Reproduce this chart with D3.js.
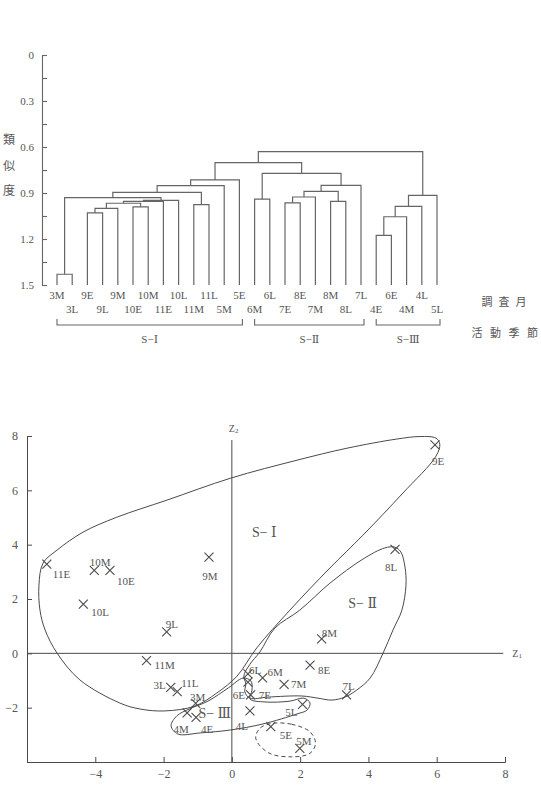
<!DOCTYPE html>
<html>
<head>
<meta charset="utf-8">
<script src="https://cdn.jsdelivr.net/npm/d3@7"></script>
<style>
body{margin:0;background:#fff;}
svg{display:block;font-family:"Liberation Serif","DejaVu Serif",serif;}
.cjk{font-family:"Noto Sans CJK JP","Noto Sans CJK SC",sans-serif;font-weight:400;}
</style>
</head>
<body>
<div id="chart"></div>
<script>
//====================== dendrogram data ===========================
var leafNames=["3M","3L","9E","9L","9M","10E","10M","11E","10L","11M","11L","5M","5E",
	"6M","6L","7E","8E","7M","8M","8L","7L","4E","6E","4M","4L","5L"];
// [left, right, similarity] ; ids >= 26 are earlier rows (26 + row)
var merges=[
	[0,1,1.43],[2,3,1.03],[27,4,1.00],[5,6,0.99],[28,29,0.967],[30,7,0.955],[31,8,0.948],
	[26,32,0.93],[9,10,0.976],[33,34,0.896],[35,11,0.852],[36,12,0.815],
	[13,14,0.94],[15,16,0.965],[39,17,0.926],[18,19,0.955],[40,41,0.889],[42,20,0.85],
	[38,43,0.772],[37,44,0.702],
	[21,22,1.176],[46,23,1.055],[47,24,0.987],[48,25,0.915],[45,49,0.63]
];
var simTicks=[0,0.15,0.3,0.45,0.6,0.75,0.9,1.05,1.2,1.35,1.5];
var groupNames=["S−Ⅰ","S−Ⅱ","S−Ⅲ"];
var groupFirst=["3M","6M","4E"];
var groupLast=["5E","7L","5L"];

//====================== ordination data ===========================
var ptNames=["11E","10M","10E","9M","10L","9L","11M","3L","11L","3M","4M","4E","6L","6E","7E",
	"4L","6M","7M","8E","8M","7L","5L","5E","5M","9E","8L"];
var ptZ1=[-5.42,-4.03,-3.57,-0.67,-4.35,-1.91,-2.50,-1.79,-1.60,-1.06,-1.31,-1.05,0.47,0.47,0.55,
	0.53,0.90,1.53,2.29,2.63,3.36,2.07,1.14,1.99,5.95,4.78];
var ptZ2=[3.28,3.05,3.05,3.54,1.81,0.79,-0.27,-1.25,-1.41,-1.84,-2.19,-2.36,-0.76,-1.06,-1.53,
	-2.12,-0.90,-1.14,-0.43,0.53,-1.53,-1.88,-2.70,-3.50,7.67,3.83];
var z1Ticks=[-4,-2,0,2,4,6,8];
var z2Ticks=[-2,0,2,4,6,8];

// group outlines, in (Z1,Z2)
var hullS1=[[-5.62,1.59],[-5.65,2.51],[-5.53,3.32],[-5.12,3.80],[-4.36,4.46],[-3.37,5.01],[-1.90,5.64],
	[-0.03,6.45],[1.91,7.11],[3.37,7.55],[4.84,7.89],[5.51,7.98],[5.98,7.92],[6.09,7.70],[5.98,7.26],
	[5.01,5.90],[3.84,4.35],[2.87,3.14],[1.70,1.59],[0.73,0.20],[0.15,-0.84],[-0.44,-1.46],
	[-1.08,-1.94],[-1.96,-2.12],[-2.69,-2.05],[-3.28,-1.83],[-4.45,-0.98],[-5.12,0.01],[-5.47,0.86]];
var hullS2=[[4.48,3.88],[4.77,3.91],[4.95,3.73],[5.07,3.18],[5.10,2.51],[4.98,1.59],[4.72,0.86],
	[4.43,0.01],[4.05,-0.91],[3.66,-1.35],[3.31,-1.61],[2.93,-1.72],[2.52,-1.65],[2.05,-1.57],
	[1.06,-1.61],[0.53,-1.65],[0.38,-1.42],[0.41,-1.13],[0.35,-0.84],[0.53,-0.40],[0.82,0.05],
	[1.26,0.93],[1.99,1.59],[2.87,2.58],[3.84,3.47]];
var hullS3=[[-1.78,-2.67],[-1.61,-2.30],[-1.23,-2.04],[-0.70,-1.76],[-0.11,-1.28],[0.33,-0.91],
	[0.56,-1.02],[0.59,-1.35],[0.53,-1.68],[0.97,-1.79],[1.70,-1.76],[2.11,-1.65],[2.29,-1.83],
	[2.20,-2.09],[1.91,-2.23],[0.91,-2.60],[-0.03,-2.82],[-0.93,-2.93],[-1.58,-2.97]];
var hull5=[[1.17,-2.58],[1.75,-2.61],[2.29,-2.89],[2.45,-3.31],[2.29,-3.68],[1.75,-3.81],
	[1.07,-3.66],[0.70,-3.13],[0.82,-2.76]];
var regionNames=["S− Ⅰ","S− Ⅱ","S− Ⅲ"];
var regionAt=[[0.95,4.48],[3.83,1.85],[-0.50,-2.18]];

// label offsets (px) for point names: dx, dy, anchor
var lblPlace={"11E":[6,10,"start"],"10M":[6,-8,"middle"],"10E":[7,11,"start"],"9M":[1,19,"middle"],
	"10L":[8,8,"start"],"9L":[-1,-8,"start"],"11M":[8,4,"start"],"3L":[-5,-2,"end"],"11L":[4,-9,"start"],
	"3M":[2,-6,"middle"],"4M":[-6,16,"middle"],"4E":[11,12,"middle"],"6L":[1,-4,"start"],"6E":[-3,13,"end"],
	"7E":[8,0,"start"],"4L":[-8,15,"middle"],"6M":[5,-6,"start"],"7M":[7,0,"start"],"8E":[8,5,"start"],
	"8M":[0,-6,"start"],"7L":[2,-9,"middle"],"5L":[-5,8,"end"],"5E":[9,8,"start"],"5M":[4,-7,"middle"],
	"9E":[3,16,"middle"],"8L":[-4,18,"middle"]};

var width=541,height=798;
var ink="#4a4a4a",txt="#555";

var svg=d3.select("#chart").append("svg")
	.attr("width",width).attr("height",height);
svg.append("rect").attr("width",width).attr("height",height).attr("fill","#fff");

//====================== dendrogram ===========================
var ySim=d3.scaleLinear().domain([0,1.5]).range([55,285]);
var xLeaf=d3.scalePoint().domain(leafNames).range([57,437]);

var dendro=svg.append("g").attr("class","dendro");

var simAxis=d3.axisLeft(ySim).tickValues(simTicks)
	.tickSizeInner(-5).tickSizeOuter(-5).tickPadding(8)
	.tickFormat(function(d,i){ if(i%2) return ""; return d==0?"0":d.toFixed(1); });
var ga=dendro.append("g").attr("transform","translate(42,0)").call(simAxis);
ga.selectAll("path,line").attr("stroke","#666").attr("stroke-width",1.1);
ga.selectAll("text").attr("fill",txt).attr("font-size",11)
	.attr("font-family","'Liberation Serif',serif");

var ylab=["類","似","度"];
dendro.selectAll("text.ylab").data(ylab).enter().append("text")
	.attr("class","ylab cjk").attr("x",9).attr("y",function(d,i){return 144+i*25.5;})
	.attr("text-anchor","middle").attr("font-size",12).attr("fill",txt).text(function(d){return d;});

var nodes=leafNames.map(function(d){return {x:xLeaf(d),y:ySim(1.5)};});
var links=[];
merges.forEach(function(m){
	var a=nodes[m[0]],b=nodes[m[1]],y=ySim(m[2]);
	links.push("M"+a.x+","+a.y+"V"+y+"H"+b.x+"V"+b.y);
	nodes.push({x:(a.x+b.x)/2,y:y});
});
dendro.selectAll("path.link").data(links).enter().append("path")
	.attr("class","link").attr("d",function(d){return d;})
	.attr("fill","none").attr("stroke","#666").attr("stroke-width",1.2);

dendro.selectAll("text.leaf").data(leafNames).enter().append("text")
	.attr("class","leaf").attr("x",function(d){return xLeaf(d);})
	.attr("y",function(d,i){return i%2?313:299;})
	.attr("text-anchor","middle").attr("font-size",11).attr("fill",txt)
	.text(function(d){return d;});

groupNames.forEach(function(g,i){
	var x0=xLeaf(groupFirst[i]),x1=xLeaf(groupLast[i])+3;
	dendro.append("path").attr("d","M"+x0+",319V325H"+x1+"V319")
		.attr("fill","none").attr("stroke","#666").attr("stroke-width",1.1);
	dendro.append("text").attr("x",(x0+x1)/2).attr("y",343).attr("text-anchor","middle")
		.attr("font-size",11).attr("fill",txt).text(g);
});

// row captions on the right, one glyph at a time
function spaced(chars,x0,step,yy){
	dendro.append("g").selectAll("text").data(chars).enter().append("text")
		.attr("class","cjk").attr("x",function(d,i){return x0+step*i;}).attr("y",yy)
		.attr("text-anchor","middle").attr("font-size",11).attr("fill",txt)
		.text(function(d){return d;});
}
spaced(["調","査","月"],487,17,306);
spaced(["活","動","季","節"],477,18.5,337);

//====================== ordination plot ===========================
var x=d3.scaleLinear().domain([-6,8]).range([27,505]);
var y=d3.scaleLinear().domain([-4,8]).range([762,436]);

var plot=svg.append("g").attr("class","ordination");

var gx=plot.append("g").attr("transform","translate(0,"+y(-4)+")")
	.call(d3.axisBottom(x).tickValues([-6].concat(z1Ticks)).tickSizeInner(-5).tickSizeOuter(-5).tickPadding(7)
		.tickFormat(function(d){return d==-6?"":d3.format("d")(d);}));
var gy=plot.append("g").attr("transform","translate("+x(-6)+",0)")
	.call(d3.axisLeft(y).tickValues([-4].concat(z2Ticks)).tickSizeInner(-5).tickSizeOuter(0).tickPadding(9)
		.tickFormat(function(d){return d==-4?"":d3.format("d")(d);}));
[gx,gy].forEach(function(g){
	g.selectAll("path,line").attr("stroke",ink).attr("stroke-width",1);
	g.selectAll("text").attr("fill",txt).attr("font-size",12)
		.attr("font-family","'Liberation Serif',serif");
});

// Z1 / Z2 reference lines
plot.append("line").attr("x1",x(-6)).attr("x2",x(7.95)).attr("y1",y(0)).attr("y2",y(0))
	.attr("stroke",ink).attr("stroke-width",1);
plot.append("line").attr("x1",x(0)).attr("x2",x(0)).attr("y1",y(7.85)).attr("y2",y(-4))
	.attr("stroke",ink).attr("stroke-width",1);
var z1=plot.append("text").attr("x",x(7.95)+9).attr("y",y(0)+4).attr("font-size",10).attr("fill",txt).text("Z");
z1.append("tspan").attr("font-size",7).attr("dy",1).text("1");
var z2=plot.append("text").attr("x",x(0)-3).attr("y",y(7.85)-8).attr("font-size",10).attr("fill",txt).text("Z");
z2.append("tspan").attr("font-size",7).attr("dy",1).text("2");

// outlines
var hullLine=d3.line().x(function(d){return x(d[0]);}).y(function(d){return y(d[1]);})
	.curve(d3.curveCatmullRomClosed.alpha(0.5));
[hullS1,hullS2,hullS3].forEach(function(h){
	plot.append("path").attr("d",hullLine(h)).attr("fill","none")
		.attr("stroke",ink).attr("stroke-width",1);
});
plot.append("path").attr("d",hullLine(hull5)).attr("fill","none")
	.attr("stroke",ink).attr("stroke-width",1).attr("stroke-dasharray","4,3");

// points
var pts=ptNames.map(function(d,i){return {name:d,z1:ptZ1[i],z2:ptZ2[i]};});
plot.selectAll("path.pt").data(pts).enter().append("path")
	.attr("class","pt").attr("d","M-4.5,-4.5L4.5,4.5M-4.5,4.5L4.5,-4.5")
	.attr("transform",function(d){return "translate("+x(d.z1)+","+y(d.z2)+")";})
	.attr("stroke",ink).attr("stroke-width",1.1);
plot.selectAll("text.pt").data(pts).enter().append("text")
	.attr("class","pt")
	.attr("x",function(d){return x(d.z1)+lblPlace[d.name][0];})
	.attr("y",function(d){return y(d.z2)+lblPlace[d.name][1]+4;})
	.attr("text-anchor",function(d){return lblPlace[d.name][2];})
	.attr("font-size",11).attr("fill",txt).text(function(d){return d.name;});

plot.selectAll("text.region").data(regionNames).enter().append("text")
	.attr("class","region")
	.attr("x",function(d,i){return x(regionAt[i][0]);})
	.attr("y",function(d,i){return y(regionAt[i][1])+5;})
	.attr("text-anchor","middle").attr("font-size",14).attr("fill",txt)
	.text(function(d){return d;});
</script>
</body>
</html>
